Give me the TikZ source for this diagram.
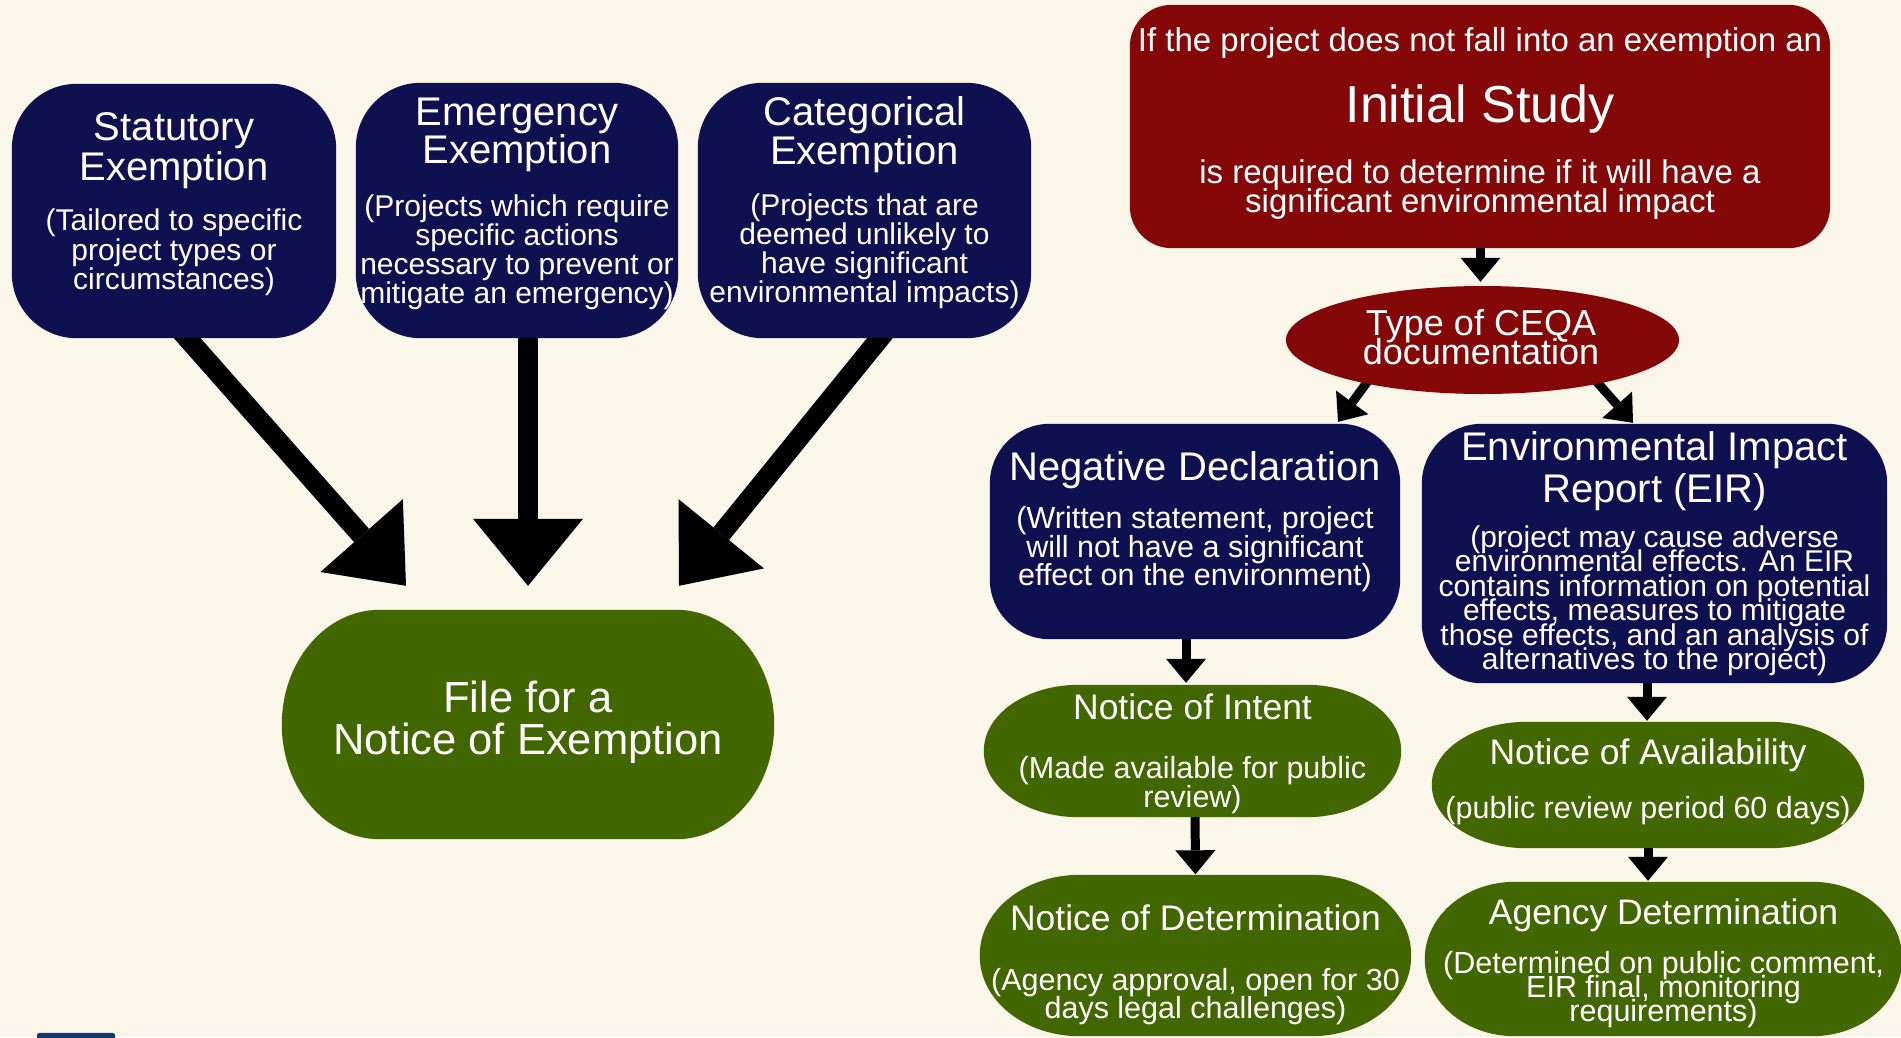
\documentclass[tikz,border=0pt]{standalone}
\usepackage{fontspec}
\setmainfont{Liberation Sans}
\usetikzlibrary{arrows.meta,shapes.geometric,backgrounds}
\definecolor{bgc}{HTML}{FAF6E9}
\definecolor{navy}{HTML}{0E1050}
\definecolor{dred}{HTML}{850808}
\definecolor{dgreen}{HTML}{436700}
\definecolor{logoblue}{HTML}{0E3A6E}
\newcommand\fsz[2]{\fontsize{#1}{#2}\selectfont\lineskiplimit=-1000pt\lineskip=0pt\relax}
\newcommand\roundfill[4]{%
  \fill[#2] ([xshift=#3]#1.south west) -- ([xshift=-#3]#1.south east)
    arc[start angle=270,end angle=360,x radius=#3,y radius=#4]
    -- ([yshift=-#4]#1.north east)
    arc[start angle=0,end angle=90,x radius=#3,y radius=#4]
    -- ([xshift=#3]#1.north west)
    arc[start angle=90,end angle=180,x radius=#3,y radius=#4]
    -- ([yshift=#4]#1.south west)
    arc[start angle=180,end angle=270,x radius=#3,y radius=#4]
    -- cycle;}
\tikzset{
  shapebox/.style={rectangle, inner sep=0pt, draw=none},
  txt/.style={text=white, align=center, inner sep=0pt},
  bigarrow/.style={line width=20pt, -{Triangle[width=110pt,length=67pt,line width=0pt]}},
  smallarrow/.style={line width=9pt, -{Triangle[width=40pt,length=24pt,line width=0pt]}},
}
\begin{document}
\begin{tikzpicture}[x=1pt,y=1pt]
\useasboundingbox (0,0) rectangle (1901,-1037);

% ---------- left column ----------
\node[shapebox, minimum width=324pt, minimum height=254pt] (stat) at (174,-211) {};
\node[txt, font=\fsz{40}{40}] (stat-t) at (174,-151) {Statutory\\Exemption};
\node[txt, font=\fsz{30}{29.5}] (stat-s) at (174,-252.5) {(Tailored to specific\\project types or\\circumstances)};

\node[shapebox, minimum width=322pt, minimum height=255pt] (emer) at (517,-210.5) {};
\node[txt, font=\fsz{40}{38}] (emer-t) at (517,-135) {Emergency\\Exemption};
\node[txt, font=\fsz{30}{29}] (emer-s) at (517,-252.5) {(Projects which require\\specific actions\\necessary to prevent or\\mitigate an emergency)};

\node[shapebox, minimum width=333pt, minimum height=255pt] (cat) at (864.5,-210.5) {};
\node[txt, font=\fsz{40}{39}] (cat-t) at (864.5,-134.5) {Categorical\\Exemption};
\node[txt, font=\fsz{30}{29}] (cat-s) at (864.5,-251.5) {(Projects that are\\deemed unlikely to\\have significant\\environmental impacts)};

\node[shapebox, minimum width=492pt, minimum height=229pt] (file) at (528,-724.5) {};
\node[txt, font=\fsz{43.5}{42}] (file-t) at (528,-722.5) {File for a\\Notice of Exemption};

\node[shapebox, minimum width=78pt, minimum height=8pt] (logo) at (76,-1037) {};

% ---------- right column ----------
\node[shapebox, minimum width=700pt, minimum height=243pt] (is) at (1480,-126.5) {};
\node[txt, font=\fsz{33}{33}] (is-a) at (1480,-42.5) {If the project does not fall into an exemption an};
\node[txt, font=\fsz{52}{52}] (is-t) at (1480,-109) {Initial Study};
\node[txt, font=\fsz{33}{29}] (is-s) at (1480,-189.5) {is required to determine if it will have a\\significant environmental impact};

\node[ellipse, fill=dred, minimum width=393pt, minimum height=108pt, inner sep=0pt] (ceqa) at (1482.5,-340) {};
\node[txt, font=\fsz{36}{29}] (ceqa-t) at (1481,-337) {Type of CEQA\\documentation};

\node[shapebox, minimum width=410pt, minimum height=215pt] (nd) at (1195,-531.5) {};
\node[txt, font=\fsz{40}{40}] (nd-t) at (1195,-470) {Negative Declaration};
\node[txt, font=\fsz{30.5}{28.5}] (nd-s) at (1195,-549.5) {(Written statement, project\\will not have a significant\\effect on the environment)};

\node[shapebox, minimum width=465pt, minimum height=259pt] (eir) at (1654.5,-553.5) {};
\node[txt, font=\fsz{40}{41.5}] (eir-t) at (1654.5,-471) {Environmental Impact\\Report (EIR)};
\node[txt, font=\fsz{30}{24.5}] (eir-s) at (1654.5,-600.5) {(project may cause adverse\\environmental effects. An EIR\\contains information on potential\\effects, measures to mitigate\\those effects, and an analysis of\\alternatives to the project)};

\node[shapebox, minimum width=417pt, minimum height=132pt] (noi) at (1192.5,-751) {};
\node[txt, font=\fsz{35.5}{35.5}] (noi-t) at (1192.5,-707) {Notice of Intent};
\node[txt, font=\fsz{30.5}{28.5}] (noi-s) at (1192.5,-785) {(Made available for public\\review)};

\node[shapebox, minimum width=431pt, minimum height=161pt] (nod) at (1195.5,-955.5) {};
\node[txt, font=\fsz{35.5}{35.5}] (nod-t) at (1195.5,-917.5) {Notice of Determination};
\node[txt, font=\fsz{30.5}{27.5}] (nod-s) at (1195.5,-996.5) {(Agency approval, open for 30\\days legal challenges)};

\node[shapebox, minimum width=432pt, minimum height=126pt] (noa) at (1648,-785) {};
\node[txt, font=\fsz{35.5}{35.5}] (noa-t) at (1648,-755) {Notice of Availability};
\node[txt, font=\fsz{30.5}{30.5}] (noa-s) at (1648,-810.5) {(public review period 60 days)};

\node[shapebox, minimum width=477pt, minimum height=154pt] (ad) at (1663.5,-959) {};
\node[txt, font=\fsz{35.5}{35.5}] (ad-t) at (1663.5,-915) {Agency Determination};
\node[txt, font=\fsz{30.5}{24}] (ad-s) at (1663.5,-990) {(Determined on public comment,\\EIR final, monitoring\\requirements)};

\begin{pgfonlayer}{background}
\fill[bgc] (0,0) rectangle (1901,-1037);
% connectors
\draw[bigarrow] ([yshift=15pt]stat.south) -- ([xshift=-122pt,yshift=24pt]file.north);
\draw[bigarrow] ([xshift=11pt,yshift=15pt]emer.south) -- ([yshift=24pt]file.north);
\draw[bigarrow] ([xshift=27.5pt,yshift=15pt]cat.south) -- ([xshift=151pt,yshift=24pt]file.north);
\draw[smallarrow] ([xshift=0.5pt,yshift=10pt]is.south) -- ([xshift=-2pt,yshift=4pt]ceqa.north);
\draw[smallarrow] ([shift={(-112pt,-37.5pt)}]ceqa.center) -- ([xshift=143pt,yshift=2pt]nd.north);
\draw[smallarrow] ([shift={(114pt,-41.5pt)}]ceqa.center) -- ([xshift=-21.5pt,yshift=1pt]eir.north);
\draw[smallarrow] ([xshift=-9pt,yshift=10pt]nd.south) -- ([xshift=-6.5pt,yshift=2pt]noi.north);
\draw[smallarrow] ([xshift=2.5pt,yshift=10pt]noi.south) -- ([yshift=0.5pt]nod.north);
\draw[smallarrow] ([xshift=-7.5pt,yshift=10pt]eir.south) -- ([xshift=-1pt,yshift=1pt]noa.north);
\draw[smallarrow] ([yshift=10pt]noa.south) -- ([xshift=-15.5pt,yshift=1pt]ad.north);
% shapes
\roundfill{stat}{navy}{65pt}{65pt}
\roundfill{emer}{navy}{65pt}{65pt}
\roundfill{cat}{navy}{65pt}{65pt}
\roundfill{file}{dgreen}{98pt}{114.5pt}
\roundfill{logo}{logoblue}{3pt}{3pt}
\roundfill{is}{dred}{42pt}{42pt}
\roundfill{nd}{navy}{60pt}{60pt}
\roundfill{eir}{navy}{60pt}{60pt}
\roundfill{noi}{dgreen}{95pt}{66pt}
\roundfill{nod}{dgreen}{100pt}{80pt}
\roundfill{noa}{dgreen}{95pt}{63pt}
\roundfill{ad}{dgreen}{90pt}{77pt}
\end{pgfonlayer}
\end{tikzpicture}
\end{document}
